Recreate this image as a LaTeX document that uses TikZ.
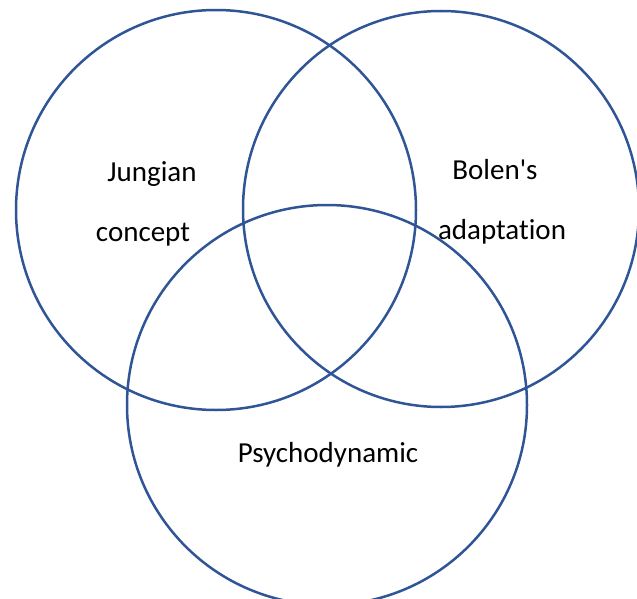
\documentclass[tikz,border=0pt]{standalone}
\usepackage{fontspec}
\setmainfont[Ligatures={NoCommon}]{Carlito}
\usepackage{tikz}
\usetikzlibrary{positioning}

\definecolor{vennblue}{HTML}{2F5597}

\begin{document}
\begin{tikzpicture}[x=1pt, y=-1pt,
    ring/.style={draw=vennblue, line width=2.5pt, circle, inner sep=0},
    label/.style={anchor=base, font=\fontsize{29}{35}\selectfont, inner sep=0}]
  \useasboundingbox (0,0) rectangle (637,599);
  % the three sets
  \node[ring, minimum size=400pt] (jung) at (216,210) {};
  \node[ring, minimum size=396pt] (bolen) at (441,209) {};
  \node[ring, minimum size=400pt] (psycho) at (327,405) {};
  % their names
  \node[label] (jungA) at (152,181) {Jungian};
  \node[label] (jungB) at (143,241) {concept};
  \node[label] (bolenA) at (495,179) {Bolen\textquotesingle s};
  \node[label] (bolenB) at (502,239) {adaptation};
  \node[label] (psychoA) at (328,462) {Psychodynamic};
\end{tikzpicture}
\end{document}
